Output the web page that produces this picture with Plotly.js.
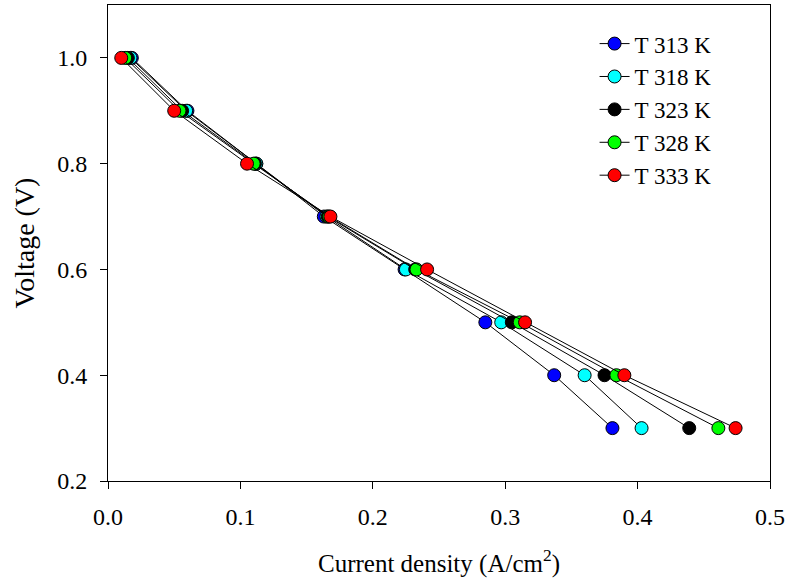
<!DOCTYPE html>
<html>
<head>
<meta charset="utf-8">
<script src="https://cdn.plot.ly/plotly-3.0.1.min.js"></script>
<style>html,body{margin:0;padding:0;background:#fff;}#chart{width:787px;height:581px;}</style>
</head>
<body>
<div id="chart"></div>
<script>
const voltage = [1.0, 0.9, 0.8, 0.7, 0.6, 0.5, 0.4, 0.3];
const seriesNames = ["T 313 K", "T 318 K", "T 323 K", "T 328 K", "T 333 K"];
const cd313 = [0.018, 0.060, 0.112, 0.163, 0.224, 0.285, 0.337, 0.381];
const cd318 = [0.017, 0.059, 0.112, 0.165, 0.225, 0.297, 0.360, 0.403];
const cd323 = [0.015, 0.056, 0.111, 0.166, 0.232, 0.305, 0.375, 0.439];
const cd328 = [0.013, 0.054, 0.110, 0.167, 0.233, 0.311, 0.384, 0.461];
const cd333 = [0.010, 0.050, 0.105, 0.168, 0.241, 0.315, 0.390, 0.474];
const xTicks = [0.0, 0.1, 0.2, 0.3, 0.4, 0.5];
const yTicks = [0.2, 0.4, 0.6, 0.8, 1.0];

const seriesX = [cd313, cd318, cd323, cd328, cd333];
const colors = ["#0000ff", "#00ffff", "#000000", "#00ff00", "#ff0000"];

const traces = seriesX.map((xs, i) => ({
  type: "scatter",
  mode: "lines+markers",
  name: seriesNames[i],
  x: xs,
  y: voltage,
  line: {color: "#000000", width: 1},
  marker: {color: colors[i], size: 13, line: {color: "#000000", width: 1}}
}));

const fam = "Liberation Serif";
const f = (s) => ({family: fam, size: s, color: "#000000"});

const layout = {
  width: 787, height: 581,
  margin: {l: 108, r: 17, t: 5, b: 100},
  paper_bgcolor: "#ffffff",
  plot_bgcolor: "#ffffff",
  font: f(22),
  showlegend: true,
  legend: {
    x: 0.735, y: 0.964, xanchor: "left", yanchor: "top",
    bgcolor: "rgba(0,0,0,0)",
    font: f(23),
    tracegroupgap: 0
  },
  xaxis: {
    range: [0, 0.5],
    tickvals: xTicks,
    ticktext: xTicks.map(v => v.toFixed(1)),
    ticks: "outside", ticklen: 7, tickwidth: 1, tickcolor: "#000",
    ticklabelstandoff: 7,
    showline: true, linecolor: "#000", linewidth: 1, mirror: true,
    showgrid: false, zeroline: false,
    tickfont: f(24),
    title: {text: "Current density (A/cm<sup>2</sup>)", font: f(25), standoff: 25}
  },
  yaxis: {
    range: [0.2, 1.1],
    tickvals: yTicks,
    ticktext: yTicks.map(v => v.toFixed(1)),
    ticks: "outside", ticklen: 7, tickwidth: 1, tickcolor: "#000",
    ticklabelstandoff: 8,
    showline: true, linecolor: "#000", linewidth: 1, mirror: true,
    showgrid: false, zeroline: false,
    tickfont: f(24),
    title: {text: "Voltage (V)", font: f(28), standoff: 14}
  }
};

Plotly.newPlot("chart", traces, layout, {displayModeBar: false, staticPlot: true});
</script>
</body>
</html>
